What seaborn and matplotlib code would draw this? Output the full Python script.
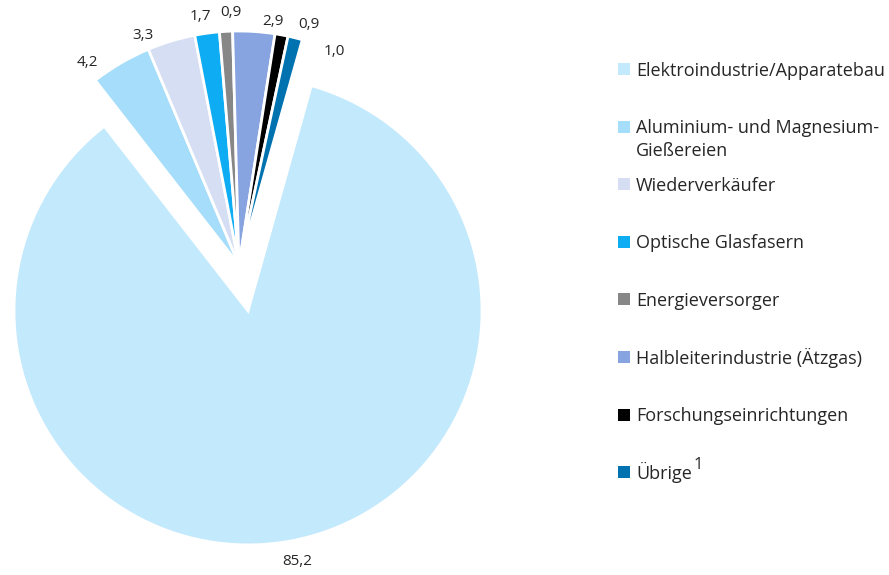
import matplotlib
matplotlib.use("Agg")
import numpy as np
import matplotlib.pyplot as plt
import seaborn as sns
from matplotlib.patches import Rectangle

# Anteile der Abnehmergruppen (in %)
categories = [
    "Elektroindustrie/Apparatebau",
    "Aluminium- und Magnesium-\nGießereien",
    "Wiederverkäufer",
    "Optische Glasfasern",
    "Energieversorger",
    "Halbleiterindustrie (Ätzgas)",
    "Forschungseinrichtungen",
    "Übrige",
]
shares = [85.2, 4.2, 3.3, 1.7, 0.9, 2.9, 0.9, 1.0]
footnotes = ["", "", "", "", "", "", "", "1"]
colors = ["#c3e9fc", "#a5ddfa", "#d5def2", "#0eadf3",
          "#878787", "#87a3e0", "#000000", "#0072b0"]

# Feinjustierung der Wertbeschriftungen: (Winkelversatz im Uhrzeigersinn, Abstand)
label_nudge = [(0.0, 1.09), (-6.5, 1.08), (-5.8, 1.065), (-1.0, 1.075),
               (1.3, 1.08), (4.3, 1.05), (5.8, 1.07), (10.1, 1.0)]

sns.set_theme(style="white")
plt.rcParams["font.family"] = ["Open Sans", "DejaVu Sans"]
text_color = "#262626"

W, H = 889, 575
fig = plt.figure(figsize=(W / 100, H / 100), dpi=100)
ax = fig.add_axes([0, 0, 1, 1])

# Pie geometry in pixels
R_px = 234.0
cx_px, cy_px = 239.0, 265.0

explode = [0.2] + [0.0] * (len(shares) - 1)
wedges, _ = ax.pie(
    shares,
    colors=colors,
    explode=explode,
    startangle=74.3,
    counterclock=False,
    radius=1.0,
    wedgeprops=dict(edgecolor="white", linewidth=2.0),
)

for w, val, (dang, dist) in zip(wedges, shares, label_nudge):
    mid = np.deg2rad((w.theta1 + w.theta2) / 2.0 - dang)
    x0, y0 = w.center
    ax.text(x0 + dist * np.cos(mid), y0 + dist * np.sin(mid),
            f"{val:.1f}".replace(".", ","),
            ha="center", va="center", fontsize=11, color=text_color)

ax.set_aspect("auto")
ax.set_xlim(-cx_px / R_px, (W - cx_px) / R_px)
ax.set_ylim(-(H - cy_px) / R_px, cy_px / R_px)
ax.axis("off")

# Legend drawn as a column of square markers with text
def fx(px):
    return px / W

def fy(py):
    return 1 - py / H

y_first, step, line_gap = 69.0, 57.6, 23.0
for i, (cat, col, fn) in enumerate(zip(categories, colors, footnotes)):
    yc = y_first + i * step
    fig.patches.append(Rectangle((fx(618), fy(yc + 6)), 12 / W, 12 / H,
                                 transform=fig.transFigure, facecolor=col,
                                 edgecolor="none"))
    last = None
    for j, line in enumerate(cat.split("\n")):
        last = fig.text(fx(636), fy(yc + 6.5 + j * line_gap), line,
                        ha="left", va="baseline", fontsize=13, color=text_color)
    if fn:
        fig.canvas.draw()
        bb = last.get_window_extent()
        fig.text(fx(bb.x1 + 1.5), fy(yc + 6.5 - 10), fn, ha="left",
                 va="baseline", fontsize=12, color=text_color)

fig.savefig("out.png", dpi=100, facecolor="white")
